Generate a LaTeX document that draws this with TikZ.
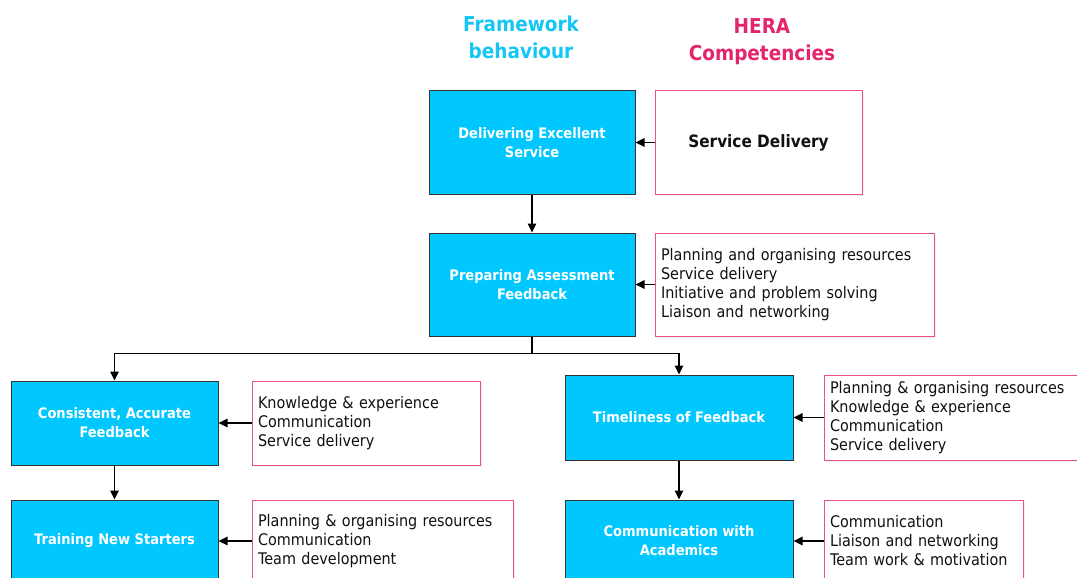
\documentclass[tikz,border=0pt]{standalone}
\usepackage{fontspec}
\setmainfont{DejaVu Sans}[FakeStretch=0.9]
\usetikzlibrary{arrows.meta,shadows}
\definecolor{boxblue}{HTML}{00C8FF}
\definecolor{titleblue}{HTML}{14C6F4}
\definecolor{herapink}{HTML}{E4246C}
\definecolor{boxpink}{HTML}{E8508C}
\definecolor{edgegrey}{HTML}{333333}
\definecolor{txt}{HTML}{111111}
\tikzset{
  behav/.style={draw=edgegrey, fill=boxblue, text=white, line width=1pt,
    font=\bfseries\fontsize{14.5}{19}\selectfont, align=center, inner sep=0pt},
  hera/.style={draw=boxpink, fill=white, line width=1pt, inner sep=0pt, text=txt,
    drop shadow={opacity=0.12, shadow xshift=2pt, shadow yshift=-2pt},
    font=\fontsize{16}{19}\selectfont},
  heralist/.style={hera, align=left, inner xsep=6pt},
  arr/.style={line width=1.1pt, -{Triangle[length=9pt,width=8.5pt]}},
  ttl/.style={font=\bfseries\fontsize{20.5}{27}\selectfont, align=center}
}
\begin{document}
\begin{tikzpicture}[x=1pt,y=-1pt]
\useasboundingbox (0,0) rectangle (1077,578);
\clip (0,0) rectangle (1077,578);
\fill[white] (0,0) rectangle (1077,578);
% titles
\node[ttl, text=titleblue] (t1) at (521,37.5) {Framework\\behaviour};
\node[ttl, text=herapink] (t2) at (762,41.5) {HERA\\Competencies};
% behaviour boxes
\node[behav, minimum width=206pt, minimum height=103pt] (A) at (532,142.5) {Delivering Excellent\\Service};
\node[behav, minimum width=206pt, minimum height=103pt] (B) at (532,284.5) {Preparing Assessment\\Feedback};
\node[behav, minimum width=207pt, minimum height=84pt] (C) at (114.5,423) {Consistent, Accurate\\Feedback};
\node[behav, minimum width=228pt, minimum height=85pt] (D) at (679,417.5) {Timeliness of Feedback};
\node[behav, minimum width=207pt, minimum height=82pt] (E) at (114.5,541) {Training New Starters};
\node[behav, minimum width=228pt, minimum height=82pt] (F) at (679,541) {Communication with\\Academics};
% HERA boxes
\node[hera, minimum width=207pt, minimum height=103pt, font=\bfseries\fontsize{17}{20}\selectfont] (Ap) at (758.5,142.5) {Service Delivery};
\node[heralist, minimum width=279pt, text width=267pt, minimum height=103pt] (Bp) at (794.5,284.5)
  {Planning and organising resources\\Service delivery\\Initiative and problem solving\\Liaison and networking};
\node[heralist, minimum width=228pt, text width=216pt, minimum height=84pt] (Cp) at (366,423)
  {Knowledge \& experience\\Communication\\Service delivery};
\node[heralist, minimum width=258pt, text width=246pt, minimum height=85pt] (Dp) at (953,417.5)
  {Planning \& organising resources\\Knowledge \& experience\\Communication\\Service delivery};
\node[heralist, minimum width=261pt, text width=249pt, minimum height=82pt] (Ep) at (382.5,541)
  {Planning \& organising resources\\Communication\\Team development};
\node[heralist, minimum width=199pt, text width=187pt, minimum height=82pt] (Fp) at (923.5,541)
  {Communication\\Liaison and networking\\Team work \& motivation};
% connectors
\draw[arr] (Ap.west) -- (A.east);
\draw[arr] (Bp.west) -- (B.east);
\draw[arr] (Cp.west) -- (C.east);
\draw[arr] (Dp.west) -- (D.east);
\draw[arr] (Ep.west) -- (E.east);
\draw[arr] (Fp.west) -- (F.east);
\draw[arr] (A.south) -- (B.north);
\draw[arr] (B.south) -- ++(0,17) -| (C.north);
\draw[arr] (B.south) -- ++(0,17) -| (D.north);
\draw[arr] (C.south) -- (E.north);
\draw[arr] (D.south) -- (F.north);
\end{tikzpicture}
\end{document}
